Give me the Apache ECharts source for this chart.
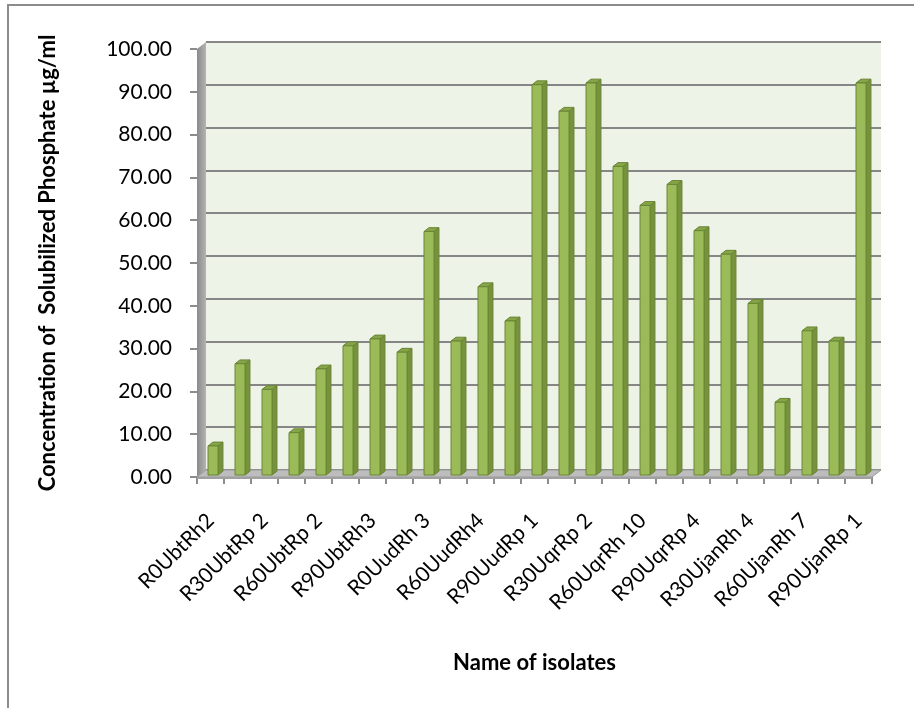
<!DOCTYPE html>
<html>
<head>
<meta charset="utf-8">
<script src="https://cdn.jsdelivr.net/npm/echarts@6/dist/echarts.min.js"></script>
<style>
  html, body { margin: 0; padding: 0; background: #ffffff; }
  #chart { width: 914px; height: 708px; }
</style>
</head>
<body>
<div id="chart"></div>
<script>
// Isolate names (every other one is labelled on the axis)
const isolates = [
  'R0UbtRh2', 'R0UbtRp 1', 'R30UbtRp 2', 'R30UbtRh 1', 'R60UbtRp 2',
  'R60UbtRh 5', 'R90UbtRh3', 'R90UbtRp 2', 'R0UudRh 3', 'R30UudRp 1',
  'R60UudRh4', 'R60UudRp 3', 'R90UudRp 1', 'R0UqrRh 2', 'R30UqrRp 2',
  'R30UqrRh 6', 'R60UqrRh 10', 'R60UqrRp 1', 'R90UqrRp 4', 'R0UjanRh 1',
  'R30UjanRh 4', 'R30UjanRp 3', 'R60UjanRh 7', 'R90UjanRh 2', 'R90UjanRp 1'
];

// Solubilized phosphate concentration (µg/ml)
const phosphate = [
  6.8, 26.0, 20.0, 9.9, 24.8,
  30.2, 31.8, 28.7, 56.9, 31.3,
  44.0, 36.0, 91.2, 85.0, 91.6,
  72.1, 63.0, 67.9, 57.1, 51.6,
  40.1, 17.0, 33.7, 31.3, 91.6
];

// Value axis ticks
const yTicks = { min: 0, max: 100, step: 10 };

const yTitle = 'Concentration of  Solubilized Phosphate µg/ml';
const xTitle = 'Name of isolates';

// Pseudo-3D layout: front plane (axes, bars) and back wall (gridlines)
const W = 914, H = 708;
const front = { left: 197, right: 42, top: 49, bottom: 231 };
const DEPTH_X = 9, DEPTH_Y = -7;
const back = {
  left: front.left + DEPTH_X, right: front.right - DEPTH_X,
  top: front.top + DEPTH_Y, bottom: front.bottom - DEPTH_Y
};
const FONT = 'Lato, "Open Sans", sans-serif';

const chart = echarts.init(document.getElementById('chart'), null, { renderer: 'canvas' });

// Box-shaped bar with front, side and top faces
function renderBar(params, api) {
  const idx = api.value(0);
  const v = api.value(1);
  const base = api.coord([idx, 0]);
  const top = api.coord([idx, v]);
  const w = 10;
  const f1 = 0.28, f2 = 0.83;
  const x0 = base[0] - w / 2 + DEPTH_X * f1;
  const yb = base[1] + DEPTH_Y * f1;
  const yt = top[1] + DEPTH_Y * f1;
  const ox = DEPTH_X * (f2 - f1), oy = DEPTH_Y * (f2 - f1);
  const edge = '#6A8535';
  return {
    type: 'group',
    children: [
      {
        type: 'polygon',
        shape: { points: [[x0 + w, yt], [x0 + w + ox, yt + oy], [x0 + w + ox, yb + oy], [x0 + w, yb]] },
        style: { fill: '#76923C', stroke: edge, lineWidth: 1 }
      },
      {
        type: 'polygon',
        shape: { points: [[x0, yt], [x0 + ox, yt + oy], [x0 + w + ox, yt + oy], [x0 + w, yt]] },
        style: { fill: '#86A548', stroke: edge, lineWidth: 1 }
      },
      {
        type: 'rect',
        shape: { x: x0, y: yt, width: w, height: yb - yt },
        style: { fill: '#9BBB59', stroke: edge, lineWidth: 1 }
      }
    ]
  };
}

const fl = front.left, fr = W - front.right, fb = H - front.bottom, ft = front.top;

chart.setOption({
  animation: false,
  backgroundColor: '#ffffff',
  textStyle: { fontFamily: FONT },
  graphic: [
    // outer chart border
    { type: 'rect', z: 0, shape: { x: 8, y: 5, width: 960, height: 760 },
      style: { fill: 'none', stroke: '#8C8C8C', lineWidth: 2 } },
    // left side wall
    { type: 'polygon', z: 1,
      shape: { points: [[fl, fb], [fl, ft], [fl + DEPTH_X, ft + DEPTH_Y], [fl + DEPTH_X, fb + DEPTH_Y]] },
      style: { fill: new echarts.graphic.LinearGradient(0, 0, 1, 0, [
        { offset: 0, color: '#8A8A8A' }, { offset: 1, color: '#B4B4B4' }]) } },
    // floor
    { type: 'polygon', z: 1,
      shape: { points: [[fl, fb], [fr, fb], [fr + DEPTH_X, fb + DEPTH_Y], [fl + DEPTH_X, fb + DEPTH_Y]] },
      style: { fill: '#BDBDBD', stroke: '#9A9A9A', lineWidth: 1 } },
    { type: 'polygon', z: 1,
      shape: { points: [[fl, fb], [fr, fb], [fr, fb + 2], [fl, fb + 2]] },
      style: { fill: '#A0A0A0' } }
  ],
  grid: [
    { left: front.left, right: front.right, top: front.top, bottom: front.bottom },
    { left: back.left, right: back.right, top: back.top, bottom: back.bottom,
      show: true, backgroundColor: '#EEF3E8', borderWidth: 0, z: -1 }
  ],
  xAxis: [
    {
      type: 'category', gridIndex: 0, data: isolates,
      name: xTitle, nameLocation: 'middle', nameGap: 175,
      nameTextStyle: { fontFamily: FONT, fontWeight: 'bold', fontSize: 22, color: '#000' },
      axisLine: { show: true, lineStyle: { color: '#8C8C8C', width: 1 } },
      axisTick: { show: true, interval: 0, length: 7, lineStyle: { color: '#8C8C8C', width: 2 } },
      axisLabel: { interval: 1, rotate: 45, margin: 40, fontFamily: FONT, fontSize: 21, color: '#000' },
      splitLine: { show: false }
    },
    { type: 'category', gridIndex: 1, data: isolates, show: false }
  ],
  yAxis: [
    {
      type: 'value', gridIndex: 0, min: yTicks.min, max: yTicks.max, interval: yTicks.step,
      name: yTitle, nameLocation: 'middle', nameGap: 138,
      nameTextStyle: { fontFamily: FONT, fontWeight: 'bold', fontSize: 22, color: '#000' },
      axisLine: { show: false },
      axisTick: { show: true, length: 7, lineStyle: { color: '#8C8C8C', width: 2 } },
      axisLabel: { margin: 25, fontFamily: FONT, fontSize: 21, color: '#000',
        formatter: v => v.toFixed(2) },
      splitLine: { show: false }
    },
    {
      type: 'value', gridIndex: 1, min: yTicks.min, max: yTicks.max, interval: yTicks.step,
      axisLine: { show: false }, axisTick: { show: false }, axisLabel: { show: false },
      splitLine: { show: true, lineStyle: { color: '#868686', width: 2 } }
    }
  ],
  series: [
    {
      type: 'custom', xAxisIndex: 0, yAxisIndex: 0, z: 5,
      renderItem: renderBar,
      encode: { x: 0, y: 1 },
      data: phosphate.map((v, i) => [i, v])
    }
  ]
});
</script>
</body>
</html>
